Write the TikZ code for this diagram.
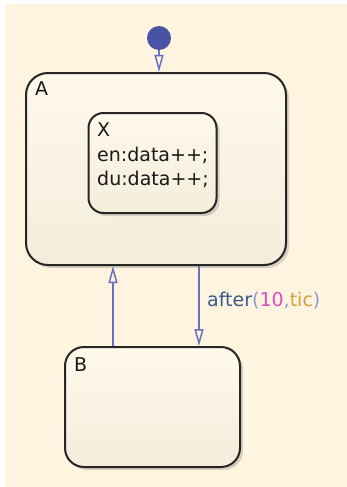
\documentclass[tikz,border=0pt]{standalone}
\usepackage{fontspec}
\setmainfont{DejaVu Sans}
\usepackage{tikz}
\usetikzlibrary{arrows.meta, calc, shadows}
\usepackage{xcolor}

\definecolor{chartbg}{RGB}{254,244,224}
\definecolor{statetop}{RGB}{255,249,236}
\definecolor{statebot}{RGB}{245,237,219}
\definecolor{transblue}{RGB}{106,114,190}
\definecolor{dotblue}{RGB}{74,82,166}
\definecolor{evtblue}{RGB}{58,92,138}
\definecolor{parblue}{RGB}{140,152,210}
\definecolor{nummag}{RGB}{224,72,200}
\definecolor{kwgold}{RGB}{214,160,58}

\tikzset{
  state/.style={draw=black!85, line width=2pt, top color=statetop, bottom color=statebot,
    drop shadow={shadow xshift=3pt, shadow yshift=-3pt, opacity=0.25, fill=black!60},
    inner sep=0pt},
  trans/.style={draw=transblue, line width=1.7pt,
    -{Triangle[open, length=17pt, width=9pt, line width=1.5pt]}},
  lbl/.style={anchor=base west, inner sep=0pt, text=black!90,
    font=\fontsize{19}{24}\selectfont}
}

\begin{document}
\begin{tikzpicture}[x=1pt, y=-1pt]
  \useasboundingbox (0,0) rectangle (347,487);
  \fill[white] (0,0) rectangle (347,487);
  \fill[chartbg] (5,4) rectangle (352,492);

  % states
  \node[state, rounded corners=22pt, minimum width=260pt, minimum height=192pt] (A) at (156,169) {};
  \node[state, rounded corners=15pt, minimum width=128pt, minimum height=100pt] (X) at (152.5,163) {};
  \node[state, rounded corners=19pt, minimum width=175pt, minimum height=120pt] (B) at (152.5,407) {};

  \node[lbl] (nameA) at (35,95) {A};
  \node[lbl] (nameX) at (97,136) {X};
  \node[lbl] (entX) at (97,161) {en:data++;};
  \node[lbl] (durX) at (97,185) {du:data++;};
  \node[lbl] (nameB) at (74,371) {B};

  % default transition
  \node[circle, fill=dotblue, minimum size=24pt, inner sep=0pt] (dflt) at (159,38) {};
  \draw[trans] (dflt.south) -- (dflt |- A.north);

  % A <-> B
  \coordinate (upB) at ([xshift=49pt]B.north west);
  \draw[trans] (upB) -- (upB |- A.south);
  \coordinate (dnA) at ([xshift=43pt]A.south);
  \draw[trans] (dnA) -- (dnA |- B.north);
  \node[lbl] (evt) at (207,306) {\textcolor{evtblue}{after}\textcolor{parblue}{(}\textcolor{nummag}{10}\textcolor{parblue}{,}\textcolor{kwgold}{tic}\textcolor{parblue}{)}};
\end{tikzpicture}
\end{document}
